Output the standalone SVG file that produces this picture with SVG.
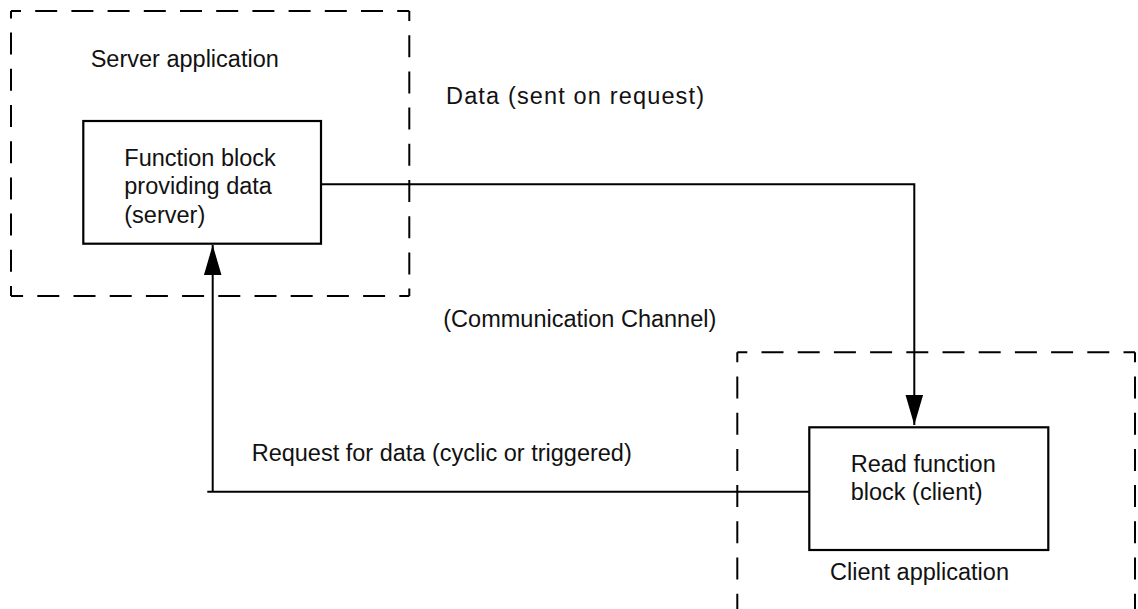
<svg xmlns="http://www.w3.org/2000/svg" width="1138" height="609" viewBox="0 0 1138 609">
<style>
.bg{fill:#fff}
.dash{fill:none;stroke:#000;stroke-width:2;stroke-dasharray:22 14.2;stroke-dashoffset:12}
.box{fill:#fff;stroke:#000;stroke-width:2.2}
.conn{fill:none;stroke:#000;stroke-width:2}
text{font-family:"Liberation Sans",Arial,Helvetica,sans-serif;font-size:23.5px;fill:#111}
</style>
<defs>
<marker id="arrow" markerUnits="userSpaceOnUse" markerWidth="31" markerHeight="18" refX="30" refY="8.75" orient="auto" viewBox="0 0 31 17.5">
<path d="M0,0 L30,8.75 L0,17.5 Z" fill="#000"/>
</marker>
</defs>
<rect class="bg" width="1138" height="609"/>
<g id="server-application">
<path class="dash" d="M11,11 H409.3"/>
<path class="dash" d="M409.3,11 V296"/>
<path class="dash" d="M409.3,296 H11"/>
<path class="dash" d="M11,296 V11"/>
<text x="90.7" y="66.7">Server application</text>
</g>
<g id="client-application">
<path class="dash" d="M737.3,352.3 H1135"/>
<path class="dash" d="M1135,352.3 V637"/>
<path class="dash" d="M737.3,352.3 V637"/>
<text x="830" y="580">Client application</text>
</g>
<g id="connectors">
<path class="conn" d="M321,184.3 H914.3 V425" marker-end="url(#arrow)"/>
<path class="conn" d="M809.3,491.7 H207.3"/>
<path class="conn" d="M212.7,491.7 V245" marker-end="url(#arrow)"/>
<text x="446" y="104" textLength="258" lengthAdjust="spacing">Data (sent on request)</text>
<text x="251.7" y="460.7">Request for data (cyclic or triggered)</text>
</g>
<g id="server-block">
<rect class="box" x="83.3" y="121" width="237.7" height="122.7"/>
<text x="124.3" y="165.7">Function block</text>
<text x="124.3" y="194.3">providing data</text>
<text x="124.3" y="222.7">(server)</text>
</g>
<g id="client-block">
<rect class="box" x="809.3" y="427.3" width="239" height="122.7"/>
<text x="850.7" y="471.7">Read function</text>
<text x="850.7" y="500">block (client)</text>
</g>
<g id="channel-label">
<text x="443.3" y="326.7">(Communication Channel)</text>
</g>
</svg>
